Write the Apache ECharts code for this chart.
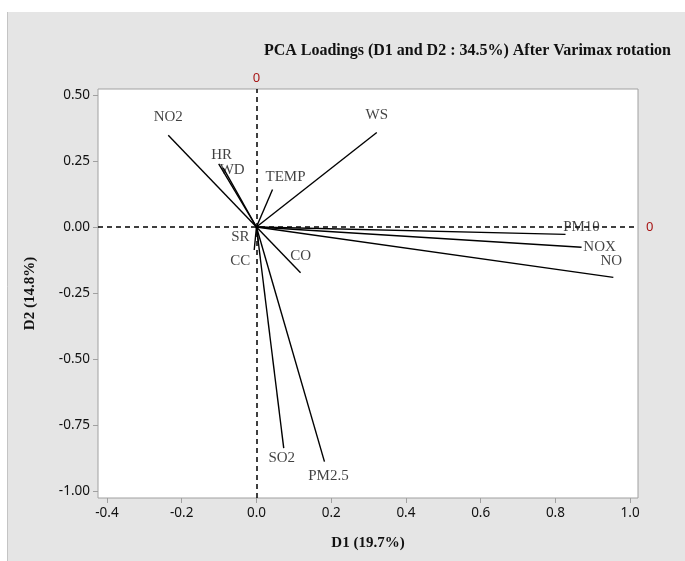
<!DOCTYPE html>
<html>
<head>
<meta charset="utf-8">
<script src="https://cdn.jsdelivr.net/npm/echarts@6/dist/echarts.min.js"></script>
<style>
html,body{margin:0;padding:0;background:#fff;}
#c{width:685px;height:561px;}
</style>
</head>
<body>
<div id="c"></div>
<script>
// Variables and their loadings on D1 and D2
const variables = ['NO2','WS','HR','WD','TEMP','PM10','NOX','NO','SR','CC','CO','SO2','PM2.5'];
const loadingsD1 = [-0.236, 0.322, -0.101, -0.089, 0.043, 0.827, 0.870, 0.955, 0.005, -0.006, 0.118, 0.073, 0.182];
const loadingsD2 = [0.348, 0.358, 0.239, 0.224, 0.142, -0.028, -0.077, -0.191, -0.056, -0.087, -0.173, -0.838, -0.889];
const xTicks = [-0.4, -0.2, 0.0, 0.2, 0.4, 0.6, 0.8, 1.0];
const yTicks = [0.50, 0.25, 0.00, -0.25, -0.50, -0.75, -1.00];

// label placement (style only)
const labelOffsets = {
  'NO2':[0,-18], 'WS':[0,-17], 'HR':[3,-9], 'WD':[9,2], 'TEMP':[13,-12],
  'PM10':[16,-7], 'NOX':[18,0], 'NO':[-2,-16], 'SR':[-18,-5], 'CC':[-14,11],
  'CO':[0,-17], 'SO2':[-2,10], 'PM2.5':[4,14]
};

const chart = echarts.init(document.getElementById('c'), null, {renderer:'canvas'});
const serif = '"Liberation Serif","DejaVu Serif",serif';
const sans = '"Noto Sans","Open Sans",sans-serif';

const option = {
  backgroundColor: '#ffffff',
  animation: false,
  graphic: [
    {type:'rect', z:-10, shape:{x:7, y:12, width:678, height:549}, style:{fill:'#e5e5e5'}},
    {type:'line', z:-9, shape:{x1:7.5, y1:12, x2:7.5, y2:561}, style:{stroke:'#c4c4c4', lineWidth:1}}
  ],
  title: {
    text: 'PCA Loadings (D1 and D2 : 34.5%) After Varimax rotation',
    right: 9, top: 38,
    textStyle: {fontFamily: serif, fontWeight:'bold', fontSize:16, color:'#111'}
  },
  grid: {
    left: 98, right: 47, top: 89, bottom: 63,
    show: true, backgroundColor:'#ffffff', borderColor:'#a0a0a0', borderWidth:1
  },
  xAxis: {
    type:'value', min:-0.424, max:1.021,
    name:'D1 (19.7%)', nameLocation:'middle', nameGap:38,
    nameTextStyle:{fontFamily:serif, fontWeight:'bold', fontSize:15, color:'#111'},
    axisLine:{show:false, onZero:false},
    axisTick:{show:true, customValues:xTicks, length:5, lineStyle:{color:'#a0a0a0'}},
    axisLabel:{customValues:xTicks, formatter:v=>v.toFixed(1), fontFamily:sans, fontSize:13.5, color:'#111', margin:8},
    splitLine:{show:false}
  },
  yAxis: {
    type:'value', min:-1.027, max:0.523,
    name:'D2 (14.8%)', nameLocation:'middle', nameGap:60, nameRotate:90,
    nameTextStyle:{fontFamily:serif, fontWeight:'bold', fontSize:15, color:'#111'},
    axisLine:{show:false, onZero:false},
    axisTick:{show:true, customValues:yTicks, length:5, lineStyle:{color:'#a0a0a0'}},
    axisLabel:{customValues:yTicks, formatter:v=>v.toFixed(2), fontFamily:sans, fontSize:13.5, color:'#111', margin:8},
    splitLine:{show:false}
  },
  series: [
    {
      type:'lines', coordinateSystem:'cartesian2d', z:3,
      lineStyle:{color:'#000', width:1.4, opacity:1},
      data: variables.map((n,i)=>({name:n, coords:[[0,0],[loadingsD1[i], loadingsD2[i]]]}))
    },
    {
      type:'scatter', symbolSize:0, z:4,
      data: variables.map((n,i)=>({
        name:n, value:[loadingsD1[i], loadingsD2[i]],
        label:{show:true, position:'inside', offset:labelOffsets[n], formatter:n,
          fontFamily:serif, fontSize:15, color:'#111'}
      })),
      markLine: {
        silent:true, symbol:['none','none'], z:2,
        lineStyle:{color:'#000', type:[5,4], width:1.5},
        label:{show:true, position:'end', formatter:'0', color:'#a81616', fontFamily:sans, fontSize:13},
        data:[
          {xAxis:0, label:{distance:4}},
          {yAxis:0, label:{distance:8}}
        ]
      }
    }
  ]
};
chart.setOption(option);
</script>
</body>
</html>
